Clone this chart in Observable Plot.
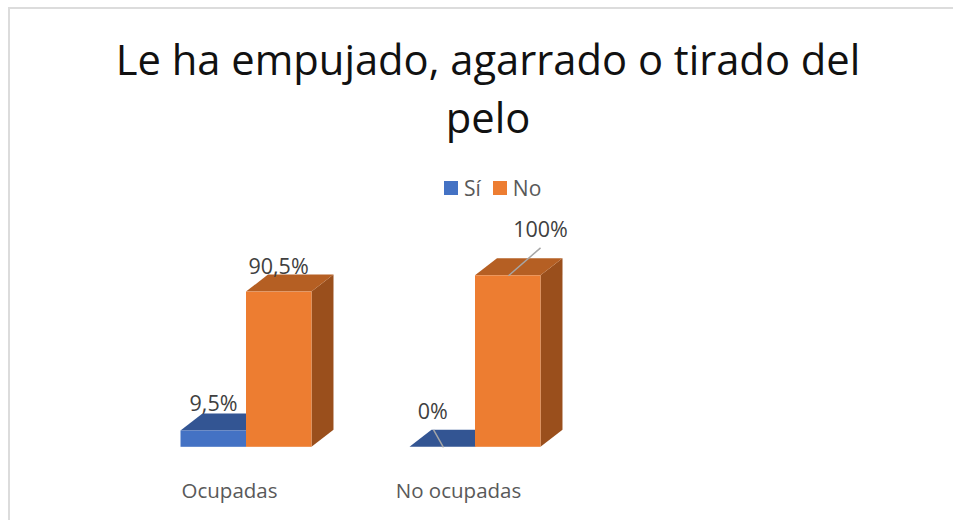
<!DOCTYPE html>
<html lang="es">
<head>
<meta charset="utf-8">
<script src="https://cdn.jsdelivr.net/npm/d3@7"></script>
<script src="https://cdn.jsdelivr.net/npm/@observablehq/plot@0.6"></script>
<style>
  html, body { margin: 0; padding: 0; background: #fff; width: 953px; height: 520px; overflow: hidden; font-family: "Open Sans", sans-serif; }
  #frame { position: absolute; left: 8px; top: 7px; right: 0; bottom: 0; border-top: 2px solid #dcdcdc; border-left: 2px solid #dcdcdc; }
  #title { position: absolute; left: 88px; top: 30px; width: 800px; text-align: center; font-size: 41.7px; line-height: 58px; color: #111; font-weight: 400; }
  #legend { position: absolute; left: 444px; top: 175px; height: 26px; display: flex; align-items: center; font-size: 21px; color: #595959; }
  #legend i { display: inline-block; width: 14px; height: 14px; margin-right: 6px; }
  #legend span { margin-right: 12px; }
  #chart { position: absolute; left: 0; top: 205px; }
  #chart svg { overflow: visible; }
</style>
</head>
<body>
<div id="frame"></div>
<div id="title">Le ha empujado, agarrado o tirado del<br>pelo</div>
<div id="legend"></div>
<div id="chart"></div>
<script>
// Data
const categories = ["Ocupadas", "No ocupadas"];
const seriesNames = ["Sí", "No"];
const si = [9.5, 0];
const no = [90.5, 100];
const siLabels = ["9,5%", "0%"];
const noLabels = ["90,5%", "100%"];

// Colours
const front = {"Sí": "#4472C4", "No": "#ED7D31"};
const top3d = {"Sí": "#335593", "No": "#B55F23"};
const side3d = {"Sí": "#274272", "No": "#9A4F1C"};

// Bar geometry in scale units (x: one unit per category, y: percent)
const barW = 0.286, depthX = 0.096, depthY = 9.9;

const bars = [];
categories.forEach((c, i) => {
  bars.push({id: `s${i}`, name: "Sí", l: i - barW, r: i, v: si[i]});
  bars.push({id: `n${i}`, name: "No", l: i, r: i + barW, v: no[i]});
});

const topFaces = bars.flatMap(b => [
  {id: b.id, name: b.name, y: b.v, x1: b.l, x2: b.r},
  {id: b.id, name: b.name, y: b.v + depthY, x1: b.l + depthX, x2: b.r + depthX}
]);
const sideFaces = bars.flatMap(b => [
  {id: b.id, name: b.name, x: b.r, y1: 0, y2: b.v},
  {id: b.id, name: b.name, x: b.r + depthX, y1: depthY, y2: b.v + depthY}
]);

const valueLabels = [
  {x: -0.144, y: 9.5 + 15.8, t: siLabels[0]},
  {x: 0.14, y: 90.5 + 14.8, t: noLabels[0]},
  {x: 0.813, y: 0 + 20.6, t: siLabels[1]},
  {x: 1.284, y: 100 + 26.7, t: noLabels[1]}
];
const leaders = [
  {x1: 0.817, y1: 10.2, x2: 0.86, y2: 0},
  {x1: 1.144, y1: 100, x2: 1.284, y2: 116.3}
];

const siFirst = d => d.name === "Sí";
const noOnly = d => d.name === "No";

const plot = Plot.plot({
  width: 953,
  height: 315,
  marginTop: 70.3,
  marginBottom: 73.2,
  marginLeft: 0,
  marginRight: 0,
  style: {background: "transparent", fontFamily: "'Open Sans', sans-serif"},
  x: {domain: [0, 1], range: [246, 475]},
  y: {domain: [0, 100], axis: null},
  marks: [
    Plot.areaX(topFaces.filter(siFirst), {y: "y", x1: "x1", x2: "x2", z: "id", fill: top3d["Sí"]}),
    Plot.rect(bars.filter(siFirst), {x1: "l", x2: "r", y1: 0, y2: "v", fill: front["Sí"]}),
    Plot.areaY(sideFaces.filter(noOnly), {x: "x", y1: "y1", y2: "y2", z: "id", fill: side3d["No"]}),
    Plot.areaX(topFaces.filter(noOnly), {y: "y", x1: "x1", x2: "x2", z: "id", fill: top3d["No"]}),
    Plot.rect(bars.filter(noOnly), {x1: "l", x2: "r", y1: 0, y2: "v", fill: front["No"]}),
    Plot.link(leaders, {x1: "x1", y1: "y1", x2: "x2", y2: "y2", stroke: "#a6a6a6", strokeWidth: 1.5}),
    Plot.text(valueLabels, {x: "x", y: "y", text: "t", fontSize: 21.5, fill: "#404040"}),
    Plot.axisX({
      ticks: [0, 1],
      tickFormat: i => categories[i],
      tickSize: 0,
      tickPadding: 36,
      dx: -17,
      fontSize: 20.5,
      color: "#595959",
      label: null
    })
  ]
});
document.getElementById("chart").append(plot);

const legend = document.getElementById("legend");
seriesNames.forEach(n => {
  const sw = document.createElement("i");
  sw.style.background = front[n];
  const lb = document.createElement("span");
  lb.textContent = n;
  legend.append(sw, lb);
});
</script>
</body>
</html>
